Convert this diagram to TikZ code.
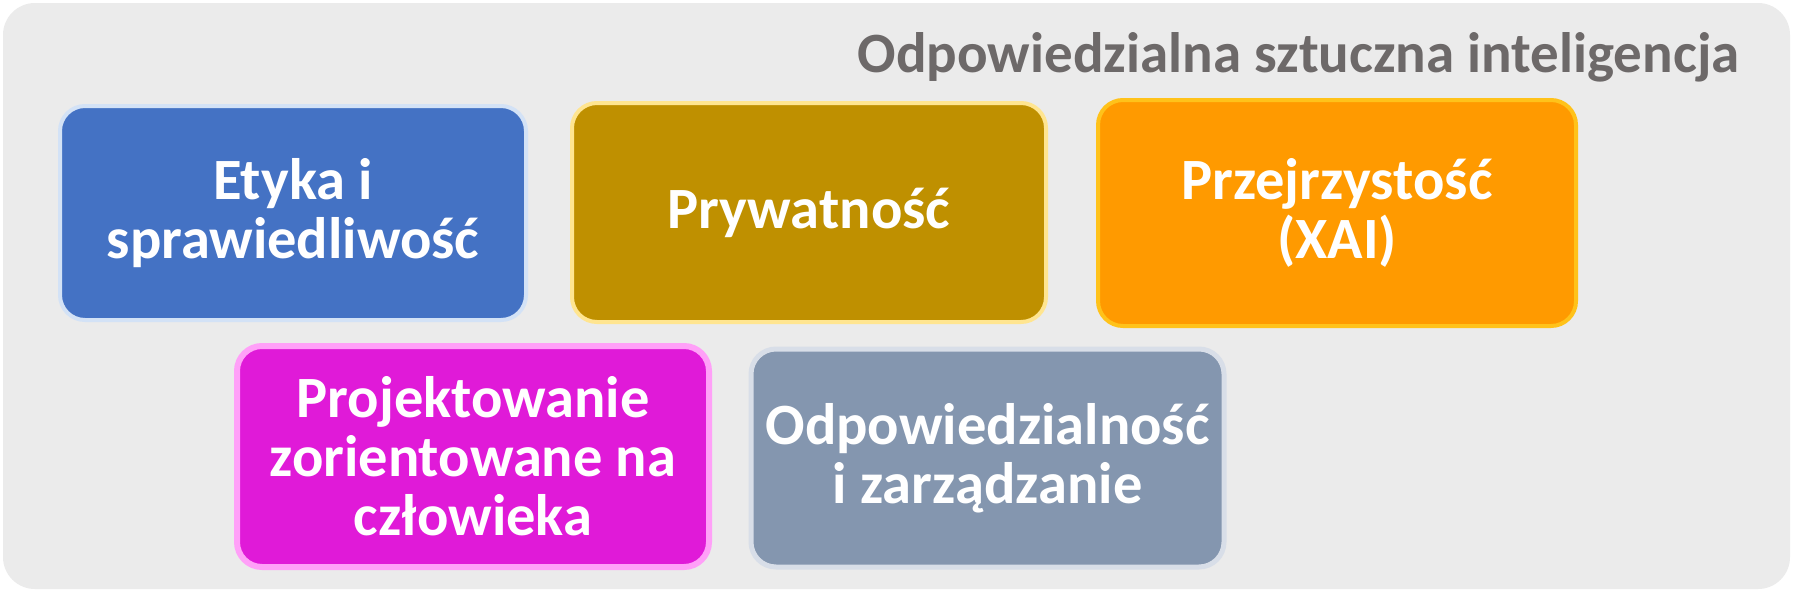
\documentclass[tikz,border=0pt]{standalone}
\usepackage{fontspec}
\setmainfont{Carlito}
\definecolor{bgc}{HTML}{EBEBEB}
\definecolor{titlec}{HTML}{6D6969}
\definecolor{bluef}{HTML}{4472C4}
\definecolor{blueb}{HTML}{D3E2F6}
\definecolor{goldf}{HTML}{BF9000}
\definecolor{goldb}{HTML}{FFE590}
\definecolor{orangef}{HTML}{FF9A00}
\definecolor{orangeb}{HTML}{FFC21A}
\definecolor{magf}{HTML}{E01AD8}
\definecolor{magb}{HTML}{FFA0F8}
\definecolor{slatef}{HTML}{8496AF}
\definecolor{slateb}{HTML}{D8DEE8}
\tikzset{
  card/.style={rectangle, rounded corners=25pt, line width=4pt, inner sep=0pt,
    align=center, text=white, font=\fontsize{58.5}{59}\selectfont\bfseries},
}
\begin{document}
\begin{tikzpicture}[x=1pt,y=-1pt]
\useasboundingbox (0,0) rectangle (1793,592);
\fill[white] (0,0) rectangle (1793,592);
\node[fill=bgc, rounded corners=32pt, minimum width=1787pt, minimum height=586pt, inner sep=0pt] (bg) at (896.5,296) {};
\node[anchor=base east, text=titlec, font=\fontsize{57}{60}\selectfont\bfseries] (title) at (1743,72) {Odpowiedzialna sztuczna inteligencja};
\node[card, fill=bluef, draw=blueb, minimum width=466pt, minimum height=214pt] (etyka) at (293,213) {Etyka i\\sprawiedliwość};
\node[card, fill=goldf, draw=goldb, minimum width=474pt, minimum height=219pt] (pryw) at (809,212.5) {Prywatność};
\node[card, fill=orangef, draw=orangeb, minimum width=478pt, minimum height=226pt] (przej) at (1337,213) {Przejrzystość\\(XAI)};
\node[card, fill=magf, draw=magb, line width=6pt, minimum width=472pt, minimum height=221pt] (proj) at (473,456.5) {Projektowanie\\zorientowane na\\człowieka};
\node[card, fill=slatef, draw=slateb, line width=5pt, minimum width=473pt, minimum height=218pt] (odp) at (987.5,458) {Odpowiedzialność\\i zarządzanie};
\end{tikzpicture}
\end{document}
